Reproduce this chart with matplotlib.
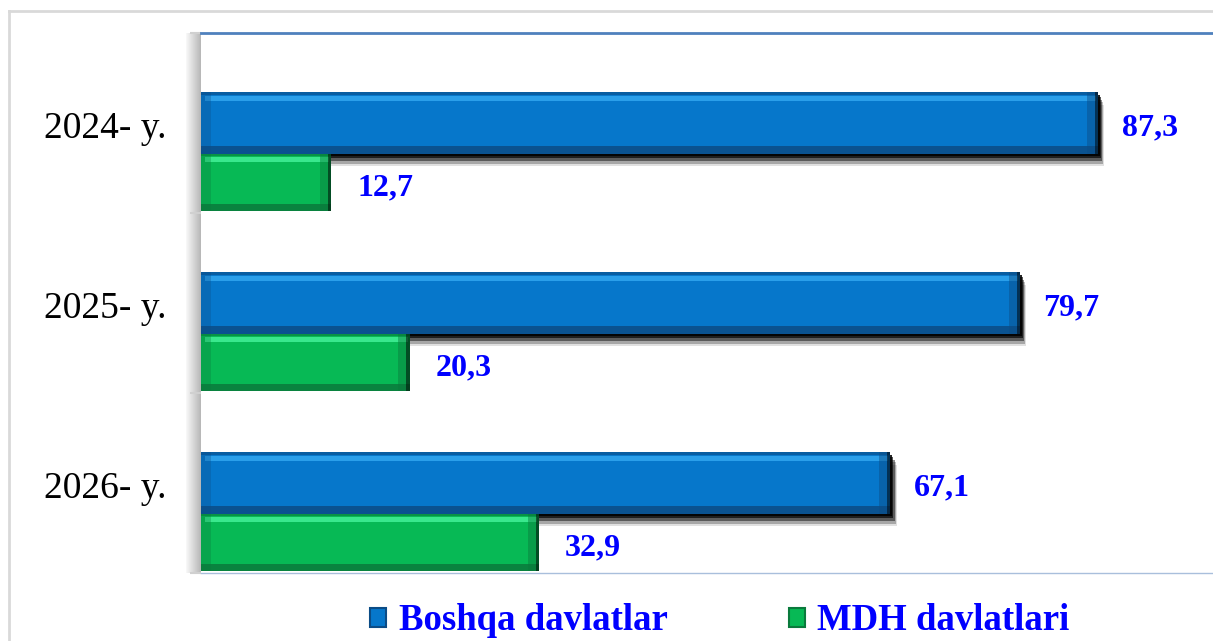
import matplotlib
matplotlib.use("Agg")
import matplotlib.pyplot as plt
import numpy as np
from matplotlib.patches import Patch
from matplotlib.lines import Line2D
import matplotlib.transforms as mtransforms

categories = ["2024- y.", "2025- y.", "2026- y."]
boshqa = [87.3, 79.7, 67.1]
mdh = [12.7, 20.3, 32.9]
labels_boshqa = ["87,3", "79,7", "67,1"]
labels_mdh = ["12,7", "20,3", "32,9"]
series_names = ["Boshqa davlatlar", "MDH davlatlari"]

W, H = 1213, 641
fig = plt.figure(figsize=(W / 100, H / 100), dpi=100)
fig.patch.set_facecolor("white")
ax = fig.add_axes([201 / W, 1 - 573 / H, 1 - 201 / W, (573 - 33) / H])

y = np.arange(len(categories))
hb, hg = 0.34, 0.32
yb = y + 0.0
yg = y + 0.17 + hg / 2

blue_main, blue_hi, blue_dk = "#0677CB", "#2A9FEA", "#0B4C86"
green_main, green_hi, green_dk = "#07B955", "#39E88D", "#0A7A3C"

def draw_series(ypos, vals, h, main, hi, dk, z, shadow):
    vals = np.array(vals)
    if shadow:
        for d, ext, a in [(0.07, 0.6, 0.12), (0.055, 0.5, 0.25), (0.04, 0.4, 0.45),
                          (0.025, 0.3, 0.65), (0.012, 0.2, 0.85)]:
            ax.barh(ypos + d, vals + ext, height=h, color="black", alpha=a,
                    zorder=z, linewidth=0)
    ax.barh(ypos, vals, height=h, color=main, zorder=z + 1, linewidth=0)
    # top highlight
    ax.barh(ypos - h / 2 + 0.035, vals - 0.6, left=0.4, height=0.028, color=hi,
            zorder=z + 2, linewidth=0)
    # top thin dark edge
    ax.barh(ypos - h / 2 + 0.006, vals, height=0.012, color=dk, zorder=z + 2,
            linewidth=0, alpha=0.6)
    # bottom dark band
    ax.barh(ypos + h / 2 - 0.02, vals, height=0.04, color=dk, zorder=z + 2,
            linewidth=0, alpha=0.85)
    # right end bevel
    ax.barh(ypos, [1.1] * len(vals), left=vals - 1.1, height=h,
            color=dk, zorder=z + 3, linewidth=0, alpha=0.45)
    ax.barh(ypos, [0.3] * len(vals), left=vals - 0.3, height=h,
            color="black", zorder=z + 3, linewidth=0, alpha=0.5)
    # left end slight dark
    ax.barh(ypos, [1.0] * len(vals), left=0, height=h,
            color=dk, zorder=z + 3, linewidth=0, alpha=0.3)

draw_series(yb, boshqa, hb, blue_main, blue_hi, blue_dk, 2, True)
draw_series(yg, mdh, hg, green_main, green_hi, green_dk, 8, False)

for yi, v, t in zip(yb, boshqa, labels_boshqa):
    ax.text(v + 2.3, yi + 0.03, t, va="center", ha="left", fontsize=23, fontweight="bold",
            color="#0000FF", family="Liberation Serif", zorder=12)
for yi, v, t in zip(yg, mdh, labels_mdh):
    ax.text(v + 2.5, yi + 0.03, t, va="center", ha="left", fontsize=23, fontweight="bold",
            color="#0000FF", family="Liberation Serif", zorder=12)

ax.set_xlim(0, 98.5)
ax.set_ylim(2.5, -0.5)
ax.set_yticks(y)
ax.set_yticklabels(categories, fontsize=27, family="Liberation Serif", color="black")
ax.tick_params(axis="y", which="major", length=0, pad=34)
ax.set_yticks([-0.5, 0.5, 1.5, 2.5], minor=True)
ax.tick_params(axis="y", which="minor", length=8, color="#d0d0d0", width=1.5)
ax.set_xticks([])

ax.spines["top"].set_color("#4F81BD")
ax.spines["top"].set_linewidth(2)
ax.spines["bottom"].set_color("#a9bfdc")
ax.spines["bottom"].set_linewidth(1)
ax.spines["right"].set_visible(False)
ax.spines["left"].set_visible(False)

# shaded left wall
grad = np.linspace(0.97, 0.72, 20).reshape(1, -1)
ax.imshow(grad, extent=(-15 / 1012, 0, 0, 1), transform=ax.transAxes, cmap="gray",
          vmin=0, vmax=1, aspect="auto", clip_on=False, zorder=1)
ax.set_xlim(0, 98.5)
ax.set_ylim(2.5, -0.5)

# outer chart frame
fig.add_artist(Line2D([9 / W, 1], [1 - 11 / H, 1 - 11 / H], color="#d9d9d9", lw=2,
                      transform=fig.transFigure))
fig.add_artist(Line2D([9 / W, 9 / W], [0, 1 - 11 / H], color="#d9d9d9", lw=2,
                      transform=fig.transFigure))

handles = [Patch(facecolor=blue_main, edgecolor=blue_dk, linewidth=1.5),
           Patch(facecolor=green_main, edgecolor=green_dk, linewidth=1.5)]
leg = fig.legend(handles, series_names, loc="center", bbox_to_anchor=(720 / W, 1 - 621 / H),
                 ncol=2, frameon=False, handlelength=0.42, handleheight=0.42,
                 handletextpad=0.35, columnspacing=3.3,
                 prop={"family": "Liberation Serif", "weight": "bold", "size": 26.5})
for t in leg.get_texts():
    t.set_color("#0000FF")

fig.canvas.draw()
off = mtransforms.ScaledTranslation(13 / 100, -2 / 100, fig.dpi_scale_trans)
for lab in ax.get_yticklabels():
    lab.set_transform(lab.get_transform() + off)

fig.savefig("out.png", dpi=100)
